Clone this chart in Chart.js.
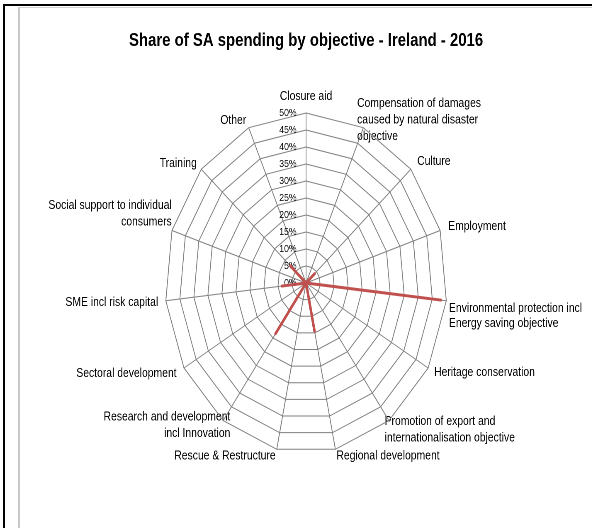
<!DOCTYPE html>
<html>
<head>
<meta charset="utf-8">
<script src="https://cdn.jsdelivr.net/npm/chart.js@4.4.1/dist/chart.umd.min.js"></script>
<style>
html, body { margin: 0; padding: 0; background: #fff; }
#page { position: relative; width: 592px; height: 528px; overflow: hidden; background: #fff; }
#frameOuter { position: absolute; left: 3px; top: 4px; width: 640px; height: 560px; border-left: 2px solid #000; border-top: 2px solid #000; }
#frameInner { position: absolute; left: 18px; top: 7px; width: 640px; height: 560px; border-left: 2px solid #c8c8c8; border-top: 1px solid #d2d2d2; }
#wrap { position: absolute; left: 0; top: 0; width: 738px; height: 528px; transform: scaleX(0.8294); transform-origin: 0 0; }
</style>
</head>
<body>
<div id="page">
<div id="frameOuter"></div>
<div id="frameInner"></div>
<div id="wrap"><canvas id="chart" width="738" height="528"></canvas></div>
</div>
<script>
// ---- data ----
const TITLE = 'Share of SA spending by objective - Ireland - 2016';
const SERIES_NAME = 'Ireland';
const CATEGORIES = [
  'Closure aid',
  ['Compensation of damages', 'caused by natural disaster', 'objective'],
  'Culture',
  'Employment',
  ['Environmental protection incl', 'Energy saving objective'],
  'Heritage conservation',
  ['Promotion of export and', 'internationalisation objective'],
  'Regional development',
  'Rescue & Restructure',
  ['Research and development', 'incl Innovation'],
  'Sectoral development',
  'SME incl risk capital',
  ['Social support to individual', 'consumers'],
  'Training',
  'Other'
];
const VALUES = [0, 0, 4, 0, 48, 0, 0, 14.5, 0, 18.4, 0, 8.6, 0, 7.5, 0];
const TICK_VALUES = [0, 5, 10, 15, 20, 25, 30, 35, 40, 45, 50];

// ---- layout / style ----
const FONT = '"Liberation Sans", Arial, sans-serif';
const LABEL_OFFSET = [10.5, -24, 5, 5, -2, 3, -14, 1, 1, -20, 5, 4, -5, 2, 2];
const LABEL_LINE_HEIGHT = [0.1, 1.32, 0.1, 0.1, 1.2, 0.1, 1.32, 0.1, 0.1, 1.32, 0.1, 0.1, 1.32, 0.1, 0.1];
const TICK_GAP = 11.5;

const measure = document.createElement('canvas').getContext('2d');
measure.font = '10.5px ' + FONT;
function padTick(text) {
  const w = measure.measureText(text).width;
  const sp = measure.measureText(' ').width;
  return text + ' '.repeat(Math.max(0, Math.round((w + 2 * TICK_GAP) / sp)));
}

new Chart(document.getElementById('chart'), {
  type: 'radar',
  data: {
    labels: CATEGORIES,
    datasets: [{
      label: SERIES_NAME,
      data: VALUES,
      borderColor: '#C0504D',
      borderWidth: 3,
      fill: false,
      pointRadius: 0,
      pointHoverRadius: 0,
      borderJoinStyle: 'round',
      clip: false
    }]
  },
  options: {
    responsive: false,
    animation: false,
    devicePixelRatio: 2,
    layout: { padding: { top: 0, bottom: 75, left: 0, right: 0 } },
    plugins: {
      legend: { display: false },
      tooltip: { enabled: false },
      title: {
        display: true,
        text: TITLE,
        color: '#000',
        font: { family: FONT, size: 18, weight: 'bold', lineHeight: 1.2 },
        padding: { top: 30.2, bottom: 61.2 }
      }
    },
    scales: {
      r: {
        min: -0.000001,
        max: 50,
        startAngle: 0,
        grid: { color: '#808080', lineWidth: 1, circular: false },
        angleLines: { color: '#808080', lineWidth: 1 },
        ticks: {
          display: true,
          showLabelBackdrop: false,
          backdropPadding: 0,
          color: '#000',
          font: { family: FONT, size: 10.5 },
          callback: v => padTick(Math.round(v) + '%')
        },
        afterBuildTicks: scale => {
          scale.ticks = TICK_VALUES.map(v => ({ value: v === 0 ? scale.min : v }));
        },
        pointLabels: {
          color: '#000',
          font: ctx => ({ family: FONT, size: 12.5, lineHeight: LABEL_LINE_HEIGHT[ctx.index] }),
          padding: ctx => LABEL_OFFSET[ctx.index]
        },
        afterFit: scale => {
          const box = { left: scale.left, right: scale.right, top: scale.top, bottom: scale.bottom };
          scale.xCenter = (box.left + box.right) / 2;
          scale.yCenter = (box.top + box.bottom) / 2;
          scale.drawingArea = Math.min(box.right - box.left, box.bottom - box.top) / 2;
          Object.assign(scale, { left: -1e5, right: 1e5, top: -1e5, bottom: 1e5 });
          scale.fit();
          Object.assign(scale, box);
        }
      }
    }
  }
});
</script>
</body>
</html>
